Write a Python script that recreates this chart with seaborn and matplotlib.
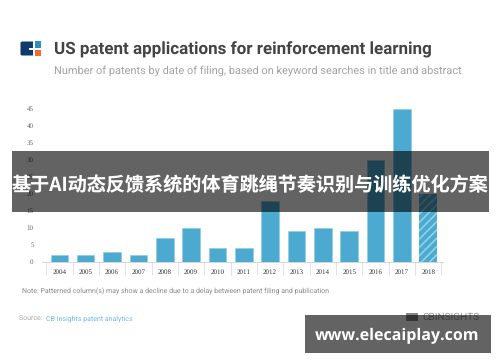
import matplotlib
matplotlib.use("Agg")
import matplotlib.pyplot as plt
from matplotlib.patches import Rectangle, FancyBboxPatch
import seaborn as sns
import pandas as pd

years = ["2004","2005","2006","2007","2008","2009","2010","2011","2012","2013","2014","2015","2016","2017","2018"]
patents = [2,2,3,2,7,10,4,4,18,9,10,9,30,45,20]
y_ticks = [0,5,10,15,20,25,30,35,40,45]
title = "US patent applications for reinforcement learning"
subtitle = "Number of patents by date of filing, based on keyword searches in title and abstract"
note = "Note: Patterned column(s) may show a decline due to a delay between patent filing and publication"
source_label = "Source: "
source_link = "CB Insights patent analytics"
banner = "基于AI动态反馈系统的体育跳绳节奏识别与训练优化方案"
site = "www.elecaiplay.com"
brand = "CBINSIGHTS"

W, H = 500, 362
BLUE = "#4caad0"
sns.set_theme(style="white")
plt.rcParams["font.family"] = ["Roboto", "DejaVu Sans"]
plt.rcParams["hatch.linewidth"] = 1.2
plt.rcParams["text.hinting"] = "no_hinting"
plt.rcParams["text.hinting_factor"] = 1

fig = plt.figure(figsize=(W/100, H/100), dpi=100, facecolor="white")
def fx(x): return x/W
def fy(y): return 1-y/H

ax = fig.add_axes([fx(42), fy(262), (443-42)/W, (262-109)/H])
df = pd.DataFrame({"year": years, "patents": patents})
sns.barplot(data=df, x="year", y="patents", order=years, color=BLUE, saturation=1, width=0.665, ax=ax)
for bar, yr in zip(ax.patches, years):
    bar.set_edgecolor("#8fcbe2"); bar.set_linewidth(0.4)
    if yr == years[-1]:
        bar.set_facecolor(BLUE); bar.set_edgecolor("#8fd2ea"); bar.set_hatch("////"); bar.set_linewidth(0)
ax.set_xlim(-0.66, 14.56)
ax.set_ylim(0, 45)
ax.set_xlabel(""); ax.set_ylabel("")
for s in ["top","right","left"]:
    ax.spines[s].set_visible(False)
ax.spines["bottom"].set_color("#d5d5d5"); ax.spines["bottom"].set_linewidth(0.7)
ax.set_yticks(y_ticks)
ax.tick_params(axis="y", length=0, pad=6, labelsize=4.8, labelcolor="#666666")
ax.set_yticklabels(y_ticks, family="Liberation Serif")
ax.set_xticks(range(len(years)))
ax.set_xticklabels(years, family="Liberation Serif", fontsize=5.2, color="#333333")
ax.tick_params(axis="x", which="major", length=0, pad=5)
ax.set_xticks([i-0.5 for i in range(len(years)+1)], minor=True)
ax.tick_params(axis="x", which="minor", length=9.4, width=0.6, color="#dddddd", bottom=True)

# logo
fig.add_artist(FancyBboxPatch((fx(20.5), fy(55.5)), 20/W, 14/H, boxstyle="round,pad=0,rounding_size=0.004",
                              transform=fig.transFigure, fc="#0e3a6b", ec="none"))
fig.add_artist(Rectangle((fx(33), fy(56)), 1.5/W, 15/H, transform=fig.transFigure, fc="white", ec="none"))
fig.add_artist(Rectangle((fx(29), fy(49.5)), 12/W, 2/H, transform=fig.transFigure, fc="white", ec="none"))
fig.add_artist(Rectangle((fx(34.5), fy(48)), 6/W, 6.5/H, transform=fig.transFigure, fc="#2a8fc0", ec="none"))
fig.add_artist(Rectangle((fx(34.5), fy(55.5)), 6/W, 6/H, transform=fig.transFigure, fc="#f26b2d", ec="none"))

fig.text(fx(54), fy(49.5), title, fontsize=12.38, fontweight="bold", color="#444444", va="center", ha="left")
fig.text(fx(54), fy(70.5), subtitle, fontsize=7.8, color="#a3a3a3", va="center", ha="left")
fig.text(fx(22), fy(291), note, fontsize=5.35, color="#8a8a8a", va="center", ha="left")
fig.text(fx(19), fy(318.5), source_label, fontsize=5.2, color="#aaaaaa", va="center", ha="left")
fig.text(fx(46), fy(318.5), source_link, fontsize=5.3, color="#6fbcd6", va="center", ha="left")
fig.add_artist(Rectangle((fx(46), fy(324)), 92/W, 0.5/H, transform=fig.transFigure, fc="#8fcde2", ec="none"))
fig.add_artist(Rectangle((fx(406), fy(321)), 12/W, 8/H, transform=fig.transFigure, fc="#888888", ec="none"))
fig.text(fx(480), fy(317.5), brand, fontsize=7.4, color="#999999", va="center", ha="right")

fig.add_artist(Rectangle((fx(12), fy(212)), 477/W, 61/H, transform=fig.transFigure, fc="black", alpha=0.61, ec="none", zorder=10))
fig.text(fx(250), fy(185.5), banner, fontsize=13.75, fontweight="bold", color="white", va="center", ha="center",
         family=["Noto Sans CJK SC", "DejaVu Sans"], zorder=11)
fig.add_artist(Rectangle((fx(305), fy(353)), 186/W, 38/H, transform=fig.transFigure, fc="black", alpha=0.61, ec="none", zorder=10))
fig.text(fx(397.5), fy(336.5), site, fontsize=11.7, fontweight="bold", color="white", va="center", ha="center",
         family="Open Sans", zorder=11)

fig.savefig("out.png", dpi=100, facecolor="white")
